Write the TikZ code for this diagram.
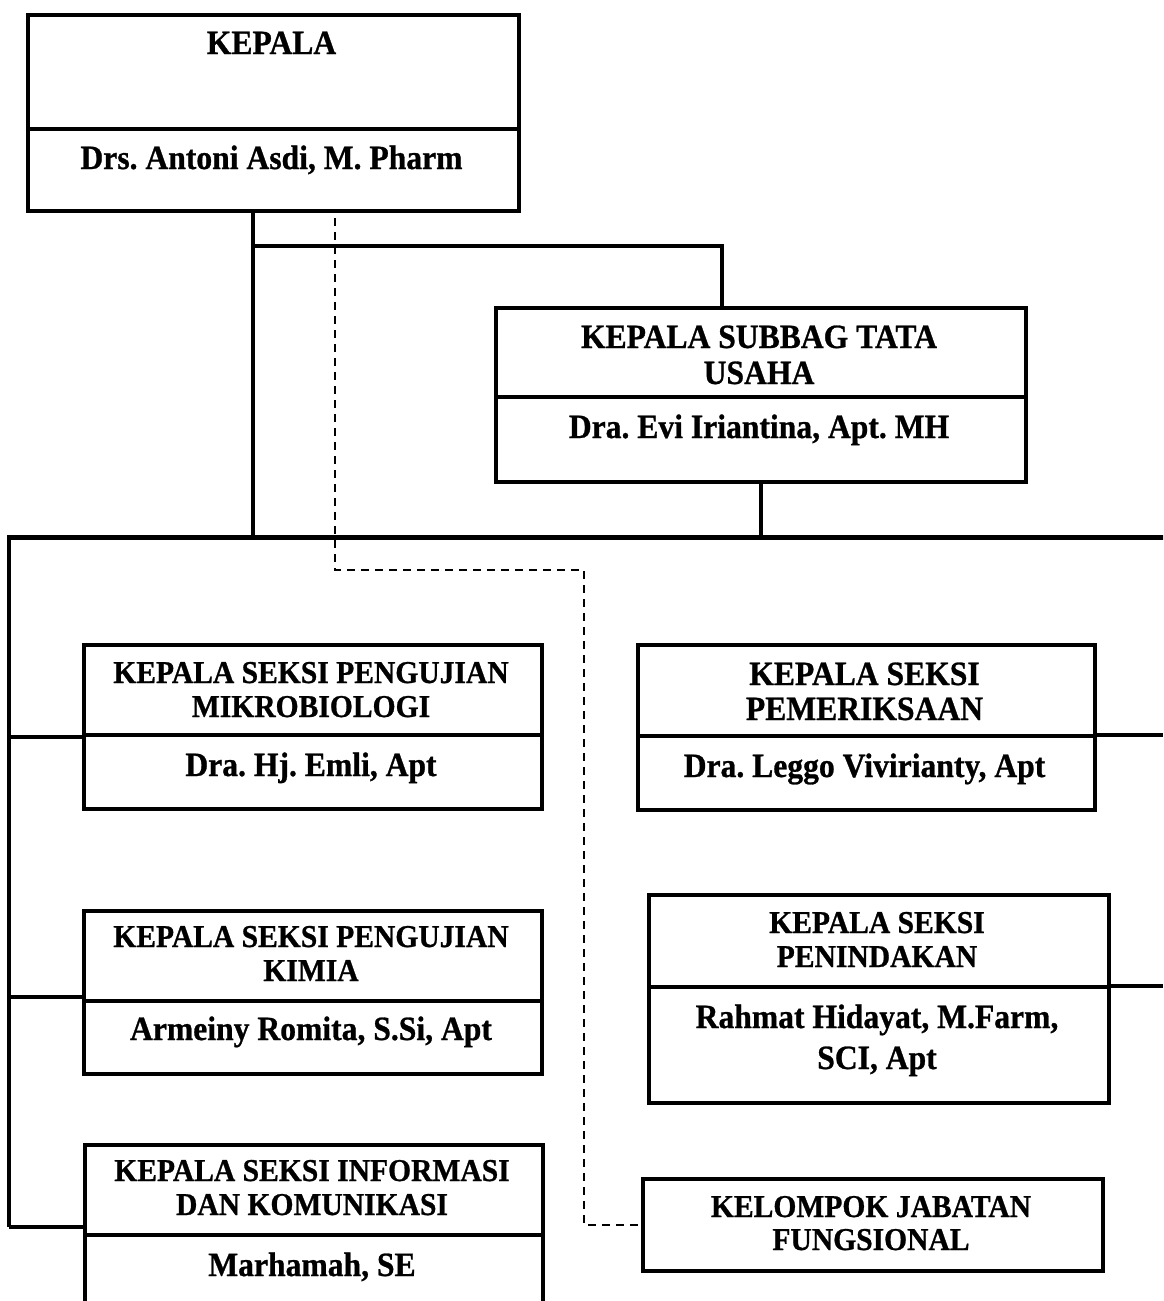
\documentclass[tikz,border=0pt]{standalone}
\usepackage{fontspec}
\setmainfont{Liberation Serif}[BoldFeatures={FakeBold=0.8,FakeStretch=0.93}]
\frenchspacing
\begin{document}
\begin{tikzpicture}[x=1pt,y=-1pt,
  part/.style={draw, line width=4pt, inner sep=0pt, anchor=north west},
  big/.style={font=\fontsize{34}{38}\selectfont\bfseries, anchor=base, inner sep=0pt},
  sml/.style={font=\fontsize{31.8}{36}\selectfont\bfseries, anchor=base, inner sep=0pt},
  conn/.style={line width=3.5pt},
  bus/.style={line width=5pt, line cap=rect},
  dashln/.style={line width=1.6pt, dash pattern=on 8pt off 6pt}]
\clip (0,0) rectangle (1163,1301);

% ---- boxes ----
\node[part, minimum width=491pt, minimum height=114pt] (kepT) at (26,13) {};
\node[part, minimum width=491pt, minimum height=82pt]  (kepB) at (26,127) {};
\node[part, minimum width=530pt, minimum height=89pt]  (subT) at (494,306) {};
\node[part, minimum width=530pt, minimum height=85pt]  (subB) at (494,395) {};
\node[part, minimum width=458pt, minimum height=90pt]  (mikT) at (82,643) {};
\node[part, minimum width=458pt, minimum height=74pt]  (mikB) at (82,733) {};
\node[part, minimum width=458pt, minimum height=90pt]  (kimT) at (82,909) {};
\node[part, minimum width=458pt, minimum height=73pt]  (kimB) at (82,999) {};
\node[part, minimum width=458pt, minimum height=90pt]  (infT) at (83,1143) {};
\node[part, minimum width=458pt, minimum height=120pt] (infB) at (83,1233) {};
\node[part, minimum width=457pt, minimum height=91pt]  (pemT) at (636,643) {};
\node[part, minimum width=457pt, minimum height=74pt]  (pemB) at (636,734) {};
\node[part, minimum width=460pt, minimum height=92pt]  (penT) at (647,893) {};
\node[part, minimum width=460pt, minimum height=116pt] (penB) at (647,985) {};
\node[part, minimum width=460pt, minimum height=92pt]  (kel)  at (641,1177) {};

% ---- texts ----
\node[big] (t1) at (271.5,54) {KEPALA};
\node[big] (t2) at (271.5,169) {Drs. Antoni Asdi, M. Pharm};
\node[big] (t3) at (759,348) {KEPALA SUBBAG TATA};
\node[big] (t4) at (759,384) {USAHA};
\node[big] (t5) at (759,438) {Dra. Evi Iriantina, Apt. MH};
\node[sml] (t6) at (311,683) {KEPALA SEKSI PENGUJIAN};
\node[sml] (t7) at (311,717) {MIKROBIOLOGI};
\node[big] (t8) at (311,776) {Dra. Hj. Emli, Apt};
\node[sml] (t9) at (311,947) {KEPALA SEKSI PENGUJIAN};
\node[sml] (t10) at (311,981) {KIMIA};
\node[big] (t11) at (311,1040) {Armeiny Romita, S.Si, Apt};
\node[sml] (t12) at (312,1181) {KEPALA SEKSI INFORMASI};
\node[sml] (t13) at (312,1215) {DAN KOMUNIKASI};
\node[big] (t14) at (312,1276) {Marhamah, SE};
\node[big] (t15) at (864.5,685) {KEPALA SEKSI};
\node[big] (t16) at (864.5,720) {PEMERIKSAAN};
\node[big] (t17) at (864.5,777) {Dra. Leggo Vivirianty, Apt};
\node[sml] (t18) at (877,933) {KEPALA SEKSI};
\node[sml] (t19) at (877,967) {PENINDAKAN};
\node[big] (t20) at (877,1028) {Rahmat Hidayat, M.Farm,};
\node[big] (t21) at (877,1069) {SCI, Apt};
\node[sml] (t22) at (871,1217) {KELOMPOK JABATAN};
\node[sml] (t23) at (871,1250) {FUNGSIONAL};

% ---- connector points ----
\coordinate (busL) at (9,537);
\coordinate (busR) at (1163,537);
\coordinate (kx) at (253,246);
\coordinate (sx) at (722,246);
\coordinate (lm) at (9,737);
\coordinate (lk) at (9,997);
\coordinate (lbot) at (9,1227);
\coordinate (rp) at (1163,735);
\coordinate (rn) at (1163,986);
\coordinate (d0) at (335,218);
\coordinate (d1) at (584,570);

% ---- connectors ----
\draw[bus] (busL) -- (busR);
\draw[conn] (kepB.south -| kx) -- (kx |- busL);
\draw[conn] (kx) -- (sx) -- (sx |- subT.north);
\draw[conn] (subB.south) -- (subB.south |- busL);
\draw[conn] (busL) -- (lbot);
\draw[conn] (lm) -- (lm -| mikB.west);
\draw[conn] (lk) -- (lk -| kimB.west);
\draw[conn] (lbot) -- (lbot -| infT.west);
\draw[conn] (rp -| pemT.east) -- (rp);
\draw[conn] (rn -| penT.east) -- (rn);
\draw[dashln] (d0) |- (d1) -- (d1 |- kel.west) -- (kel.west);
\end{tikzpicture}
\end{document}
